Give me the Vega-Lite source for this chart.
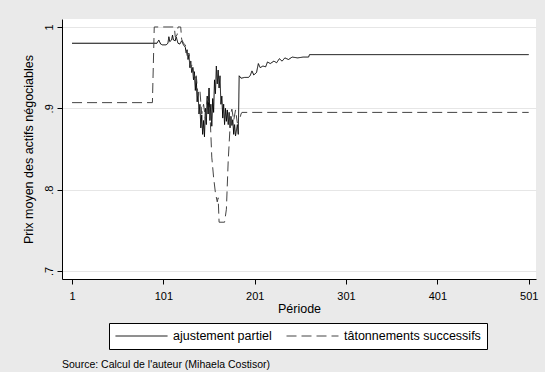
{
  "$schema": "https://vega.github.io/schema/vega-lite/v6.json",
  "autosize": {"type": "none"},
  "width": 474,
  "height": 260,
  "padding": {"left": 62, "top": 19, "right": 9, "bottom": 93},
  "background": "#EAEAEA",
  "config": {
    "view": {"fill": "white", "stroke": null},
    "font": "Liberation Sans"
  },
  "title": {
    "text": "Source: Calcul de l'auteur (Mihaela Costisor)",
    "orient": "bottom",
    "anchor": "start",
    "fontSize": 10.5,
    "fontWeight": "normal",
    "font": "Liberation Sans",
    "color": "#000000",
    "baseline": "top",
    "offset": 10,
    "dx": 40
  },
  "datasets": {
    "a": [
      [1,0.980],[94,0.980],[96,0.984],[98,0.979],[100,0.978],[104,0.978],[106,0.980],[107,0.988],[108,0.982],[110,0.984],[111,0.990],[112,0.984],[114,0.983],[115,0.988],[117,0.980],[119,0.979],[121,0.983],[123,0.978],[125,0.975],[126,0.968],[127,0.972],[128,0.960],[129,0.966],[130,0.950],[131,0.958],[132,0.944],[133,0.950],[134,0.935],[135,0.945],[136,0.922],[137,0.938],[138,0.908],[139,0.920],[140,0.893],[141,0.905],[142,0.876],[143,0.892],[144,0.868],[145,0.885],[146,0.865],[147,0.900],[148,0.880],[149,0.915],[150,0.893],[151,0.925],[152,0.885],[153,0.905],[154,0.878],[155,0.912],[156,0.895],[157,0.935],[158,0.918],[159,0.952],[160,0.930],[161,0.947],[162,0.925],[163,0.940],[164,0.905],[165,0.915],[166,0.888],[167,0.905],[168,0.880],[169,0.900],[170,0.884],[171,0.898],[172,0.880],[173,0.895],[174,0.876],[175,0.890],[176,0.879],[177,0.886],[178,0.868],[179,0.880],[180,0.866],[182,0.880],[183,0.868],[184,0.940],[186,0.937],[190,0.938],[194,0.938],[196,0.940],[198,0.946],[200,0.941],[203,0.944],[205,0.955],[207,0.950],[210,0.952],[213,0.951],[215,0.957],[218,0.955],[222,0.958],[225,0.956],[228,0.961],[231,0.958],[234,0.962],[238,0.960],[242,0.963],[248,0.962],[254,0.963],[260,0.963],[261,0.966],[501,0.966]
    ],
    "t": [
      [1,0.907],[89,0.907],[91,1.0],[113,1.0],[114,0.988],[116,0.990],[117,1.0],[120,1.0],[121,0.985],[123,0.980],[125,0.978],[127,0.965],[129,0.968],[131,0.950],[133,0.955],[135,0.935],[137,0.940],[139,0.915],[141,0.922],[143,0.893],[145,0.905],[147,0.888],[149,0.912],[151,0.906],[152,0.895],[154,0.840],[156,0.815],[158,0.796],[160,0.785],[161,0.790],[162,0.760],[168,0.760],[170,0.776],[172,0.836],[174,0.877],[175,0.894],[176,0.899],[178,0.885],[180,0.898],[182,0.882],[184,0.884],[186,0.893],[187,0.895],[501,0.895]
    ]
  },
  "layer": [
    {
      "data": {"name": "a"},
      "transform": [
        {"calculate": "datum[0]", "as": "p"},
        {"calculate": "datum[1]", "as": "v"},
        {"calculate": "'ajustement partiel'", "as": "serie"}
      ],
      "mark": {"type": "line", "strokeWidth": 1},
      "encoding": {
        "x": {"field": "p", "type": "quantitative"},
        "y": {"field": "v", "type": "quantitative"},
        "color": {"field": "serie", "type": "nominal"},
        "strokeDash": {"field": "serie", "type": "nominal"}
      }
    },
    {
      "data": {"name": "t"},
      "transform": [
        {"calculate": "datum[0]", "as": "p"},
        {"calculate": "datum[1]", "as": "v"},
        {"calculate": "'tâtonnements successifs'", "as": "serie"}
      ],
      "mark": {"type": "line", "strokeWidth": 1},
      "encoding": {
        "x": {"field": "p", "type": "quantitative"},
        "y": {"field": "v", "type": "quantitative"},
        "color": {"field": "serie", "type": "nominal"},
        "strokeDash": {"field": "serie", "type": "nominal"}
      }
    }
  ],
  "resolve": {"scale": {"x": "shared", "y": "shared"}},
  "encoding": {
    "x": {
      "field": "p",
      "type": "quantitative",
      "scale": {"domain": [-10, 509], "nice": false, "zero": false},
      "axis": {
        "title": "Période",
        "values": [1, 101, 201, 301, 401, 501],
        "grid": false,
        "domainColor": "#000000",
        "tickColor": "#000000",
        "tickSize": 5,
        "labelPadding": 6,
        "labelFontSize": 11,
        "labelColor": "#000000",
        "labelFont": "Liberation Sans",
        "titleFont": "Liberation Sans",
        "titleFontSize": 12.5,
        "titleFontWeight": "normal",
        "titleColor": "#000000",
        "titlePadding": 1,
        "labelFlush": false
      }
    },
    "y": {
      "field": "v",
      "type": "quantitative",
      "scale": {"domain": [0.6902, 1.0098], "nice": false, "zero": false},
      "axis": {
        "title": "Prix moyen des actifs négociables",
        "values": [0.7, 0.8, 0.9, 1],
        "labelExpr": "datum.value == 1 ? '1' : replace(format(datum.value, '.1f'), '0.', '.')",
        "grid": true,
        "gridColor": "#E6E6E6",
        "domainColor": "#000000",
        "tickColor": "#000000",
        "tickSize": 5,
        "labelPadding": 3,
        "labelAngle": -90,
        "labelAlign": "center",
        "labelBaseline": "bottom",
        "labelFontSize": 11,
        "labelColor": "#000000",
        "labelFont": "Liberation Sans",
        "labelFlush": false,
        "titleFont": "Liberation Sans",
        "titleFontSize": 12.5,
        "titleFontWeight": "normal",
        "titleColor": "#000000",
        "titleAngle": -90,
        "titleAlign": "center",
        "titleBaseline": "middle",
        "titleX": -34,
        "titleY": 130
      }
    },
    "color": {
      "field": "serie",
      "type": "nominal",
      "scale": {"domain": ["ajustement partiel", "tâtonnements successifs"], "range": ["#000000", "#444444"]},
      "legend": {
        "title": null,
        "orient": "none",
        "legendX": 47,
        "legendY": 304,
        "direction": "horizontal",
        "padding": 6,
        "strokeColor": "#000000",
        "fillColor": "#FFFFFF",
        "labelFontSize": 12.5,
        "labelFont": "Liberation Sans",
        "labelColor": "#000000",
        "labelOffset": 5,
        "columnPadding": 14,
        "symbolType": "stroke",
        "symbolSize": 2704,
        "symbolStrokeWidth": 1,
        "clipHeight": 14,
        "labelLimit": 300
      }
    },
    "strokeDash": {
      "field": "serie",
      "type": "nominal",
      "scale": {"domain": ["ajustement partiel", "tâtonnements successifs"], "range": [[1, 0], [10, 5]]},
      "legend": {
        "title": null,
        "orient": "none",
        "legendX": 47,
        "legendY": 304,
        "direction": "horizontal",
        "padding": 6,
        "strokeColor": "#000000",
        "fillColor": "#FFFFFF",
        "labelFontSize": 12.5,
        "labelFont": "Liberation Sans",
        "labelColor": "#000000",
        "labelOffset": 5,
        "columnPadding": 14,
        "symbolType": "stroke",
        "symbolSize": 2704,
        "symbolStrokeWidth": 1,
        "clipHeight": 14,
        "labelLimit": 300
      }
    }
  }
}
